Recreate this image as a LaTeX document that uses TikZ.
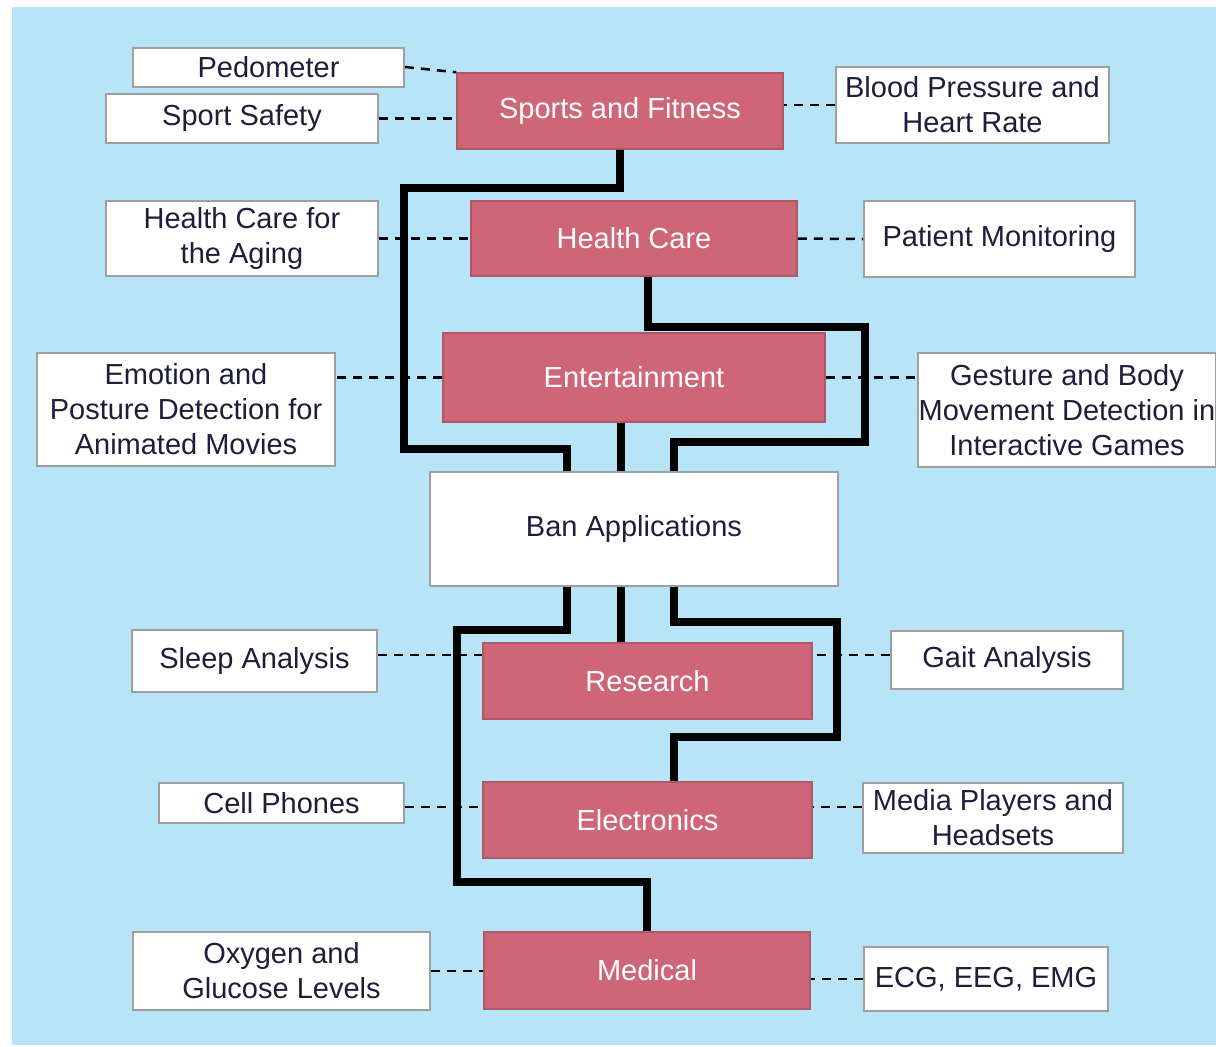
\documentclass[tikz,border=0pt]{standalone}
\usepackage{fontspec}
\setmainfont{Liberation Sans}
\usepackage{tikz}
\definecolor{banblue}{HTML}{B8E4F8}
\definecolor{banred}{HTML}{CF6677}
\definecolor{bantext}{HTML}{1E1E3C}
\tikzset{
  appbox/.style={draw=gray!75, line width=2pt, fill=white, text=bantext, inner sep=0pt, align=center, font=\fontsize{29}{35}\selectfont},
  areabox/.style={draw=banred!85!black, line width=1.5pt, fill=banred, text=white, inner sep=0pt, align=center, font=\fontsize{29}{35}\selectfont},
  dashlink/.style={line width=2.5pt, dash pattern=on 9pt off 7pt},
  trunk/.style={line width=8pt}
}

\begin{document}
\begin{tikzpicture}[x=1pt,y=-1pt]
\useasboundingbox (0,0) rectangle (1216,1047);
\fill[banblue] (12,7) rectangle (1216,1045);

\node[appbox, minimum width=271pt, minimum height=39pt] (ped) at (268.5,67) {Pedometer};
\node[appbox, minimum width=272pt, minimum height=49pt] (safety) at (242,118.5) {Sport Safety};
\node[areabox, minimum width=326pt, minimum height=76pt] (sports) at (620,111) {Sports and Fitness};
\node[appbox, minimum width=273pt, minimum height=76pt] (bp) at (972.5,105) {Blood Pressure and\\Heart Rate};

\node[appbox, minimum width=272pt, minimum height=75pt] (aging) at (242,238.5) {Health Care for\\the Aging};
\node[areabox, minimum width=326pt, minimum height=75pt] (hc) at (634,238.5) {Health Care};
\node[appbox, minimum width=271pt, minimum height=76pt] (patient) at (999.5,239) {Patient Monitoring};

\node[appbox, minimum width=298pt, minimum height=113pt] (emo) at (186,409.5) {Emotion and\\Posture Detection for\\Animated Movies};
\node[areabox, minimum width=382pt, minimum height=89pt] (ent) at (634,377.5) {Entertainment};
\node[appbox, minimum width=298pt, minimum height=114pt] (gest) at (1067,410) {Gesture and Body\\Movement Detection in\\Interactive Games};

\node[appbox, minimum width=408pt, minimum height=114pt] (ban) at (634,529) {Ban Applications};

\node[appbox, minimum width=245pt, minimum height=62pt] (sleep) at (254.5,661) {Sleep Analysis};
\node[areabox, minimum width=329pt, minimum height=76pt] (res) at (647.5,681) {Research};
\node[appbox, minimum width=232pt, minimum height=58pt] (gait) at (1007,660) {Gait Analysis};

\node[appbox, minimum width=245pt, minimum height=40pt] (cell) at (281.5,803) {Cell Phones};
\node[areabox, minimum width=329pt, minimum height=76pt] (elec) at (647.5,820) {Electronics};
\node[appbox, minimum width=260pt, minimum height=70pt] (media) at (993,818) {Media Players and\\Headsets};

\node[appbox, minimum width=297pt, minimum height=78pt] (oxy) at (281.5,971) {Oxygen and\\Glucose Levels};
\node[areabox, minimum width=326pt, minimum height=77pt] (med) at (647,970.5) {Medical};
\node[appbox, minimum width=244pt, minimum height=64pt] (ecg) at (986,979) {ECG, EEG, EMG};

\coordinate (bt1) at ([xshift=-67pt]ban.north);
\coordinate (bt2) at ([xshift=-13.5pt]ban.north);
\coordinate (bt3) at ([xshift=40pt]ban.north);
\coordinate (bb1) at ([xshift=-67pt]ban.south);
\coordinate (bb2) at ([xshift=-13.5pt]ban.south);
\coordinate (bb3) at ([xshift=40pt]ban.south);

\draw[dashlink] (ped.east) -- (sports.north west);
\draw[dashlink] (safety.east) -- (safety.east -| sports.west);
\draw[dashlink] (bp.west) -- (bp.west -| sports.east);
\draw[dashlink] (aging.east) -- (hc.west);
\draw[dashlink] (hc.east) -- (patient.west);
\draw[dashlink] (ent.west) -- (ent.west -| emo.east);
\draw[dashlink] (ent.east) -- (ent.east -| gest.west);
\draw[dashlink] ([yshift=6pt]sleep.east) -- ([yshift=6pt]sleep.east -| res.west);
\draw[dashlink] ([yshift=5pt]gait.west) -- ([yshift=5pt]gait.west -| res.east);
\draw[dashlink] ([yshift=-4pt]cell.east) -- ([yshift=-4pt]cell.east -| elec.west);
\draw[dashlink] ([yshift=11pt]media.west) -- ([yshift=11pt]media.west -| elec.east);
\draw[dashlink] (oxy.east) -- (oxy.east -| med.west);
\draw[dashlink] (ecg.west) -- (ecg.west -| med.east);

\draw[trunk] (sports.south) -- (620,188) -| (404,449) -| (bt1);
\draw[trunk] ([xshift=14pt]hc.south) -- (648,327) -| (865,442) -| (bt3);
\draw[trunk] (bt2 |- ent.south) -- (bt2);
\draw[trunk] (bb1) -- (567,630) -| (457,882) -| (med.north);
\draw[trunk] (bb2) -- (bb2 |- res.north);
\draw[trunk] (bb3) -- (674,622) -| (837,737) -| ([xshift=26.5pt]elec.north);
\end{tikzpicture}
\end{document}
